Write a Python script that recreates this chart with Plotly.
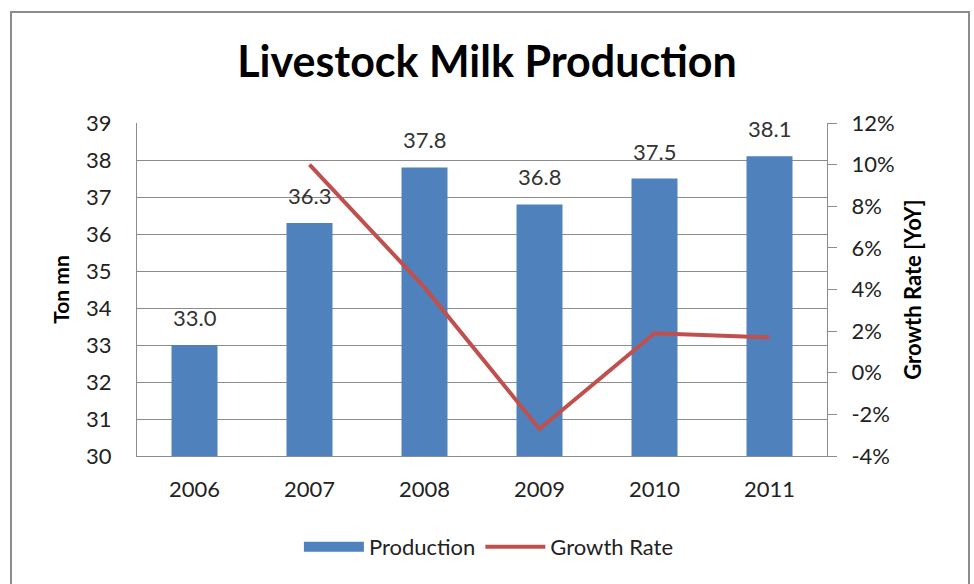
import plotly.graph_objects as go

years = ["2006", "2007", "2008", "2009", "2010", "2011"]
production = [33.0, 36.3, 37.8, 36.8, 37.5, 38.1]
growth_years = ["2007", "2008", "2009", "2010", "2011"]
growth_rate = [0.10, 0.041, -0.027, 0.019, 0.017]
left_ticks = list(range(30, 40))
right_ticks = [-0.04, -0.02, 0.0, 0.02, 0.04, 0.06, 0.08, 0.10, 0.12]
right_labels = ["-4%", "-2%", "0%", "2%", "4%", "6%", "8%", "10%", "12%"]

FONT = "Lato, Calibri, Carlito, sans-serif"
BAR = "#4F81BD"
LINE = "#C0504D"
GRID = "#8C8C8C"

fig = go.Figure()
fig.add_trace(go.Bar(
    x=years, y=production, name="Production", showlegend=False,
    marker=dict(color=BAR, line=dict(width=0)),
))
# legend-only entry so the Production key is a wide block like the reference
fig.add_trace(go.Scatter(
    x=[None], y=[None], name="Production", mode="lines",
    line=dict(color=BAR, width=14), hoverinfo="skip",
))
fig.add_trace(go.Scatter(
    x=growth_years, y=growth_rate, name="Growth Rate", yaxis="y2",
    mode="lines", line=dict(color=LINE, width=4),
))

ML, MR, MT, MB = 137, 147, 123, 128
W, H = 974, 584
pw, ph = W - ML - MR, H - MT - MB

def px(x):
    return (x - ML) / pw

def py(y):
    return (H - MB - y) / ph

annotations = [
    dict(x=years.index(yr), y=v, xref="x", yref="y", text=f"{v:.1f}", showarrow=False,
         yanchor="bottom", yshift=12,
         font=dict(family=FONT, size=22, color="#333333"))
    for yr, v in zip(years, production)
]

fig.update_layout(
    width=W, height=H,
    margin=dict(l=ML, r=MR, t=MT, b=MB),
    paper_bgcolor="white", plot_bgcolor="white",
    font=dict(family=FONT, size=20, color="#222222"),
    title=dict(text="<b>Livestock Milk Production</b>", x=0.5, xanchor="center",
               y=1 - 62 / H, yanchor="middle",
               font=dict(family=FONT, size=43, color="black")),
    bargap=0.6,
    showlegend=True,
    legend=dict(orientation="h", x=0.51, xanchor="center", y=py(547), yanchor="middle",
                font=dict(family=FONT, size=22, color="#222222"),
                traceorder="normal", itemwidth=60),
    annotations=annotations,
    xaxis=dict(type="category", range=[-0.5, len(years) - 0.5],
               showgrid=False, showline=True, linecolor=GRID,
               linewidth=1, ticks="outside", ticklen=14, tickcolor="rgba(0,0,0,0)",
               tickfont=dict(family=FONT, size=22, color="#222222")),
    yaxis=dict(range=[30, 39], tickvals=left_ticks, showgrid=True, gridcolor=GRID,
               gridwidth=1, showline=True, linecolor=GRID, linewidth=1,
               ticks="outside", ticklen=20, tickcolor="rgba(0,0,0,0)",
               tickfont=dict(family=FONT, size=22, color="#222222"),
               title=dict(text="<b>Ton mn</b>", font=dict(family=FONT, size=21, color="black"),
                          standoff=10),
               zeroline=False),
    yaxis2=dict(range=[-0.04, 0.12], tickvals=right_ticks, ticktext=right_labels,
                overlaying="y", side="right", showgrid=False, showline=True,
                linecolor=GRID, linewidth=1, ticks="outside", ticklen=9,
                tickcolor=GRID, ticklabelstandoff=10,
                tickfont=dict(family=FONT, size=22, color="#222222"),
                title=dict(text="<b>Growth Rate [YoY]</b>",
                           font=dict(family=FONT, size=22, color="black"), standoff=12),
                zeroline=False),
    shapes=[dict(type="rect", xref="paper", yref="paper",
                 x0=px(11), x1=px(969), y0=py(600), y1=py(12),
                 line=dict(color="#8C8C8C", width=2), fillcolor="rgba(0,0,0,0)",
                 layer="below")],
)

fig.write_html("out.html", config={"displayModeBar": False},
               post_script="document.body.style.margin='0';document.body.style.overflow='hidden';")
